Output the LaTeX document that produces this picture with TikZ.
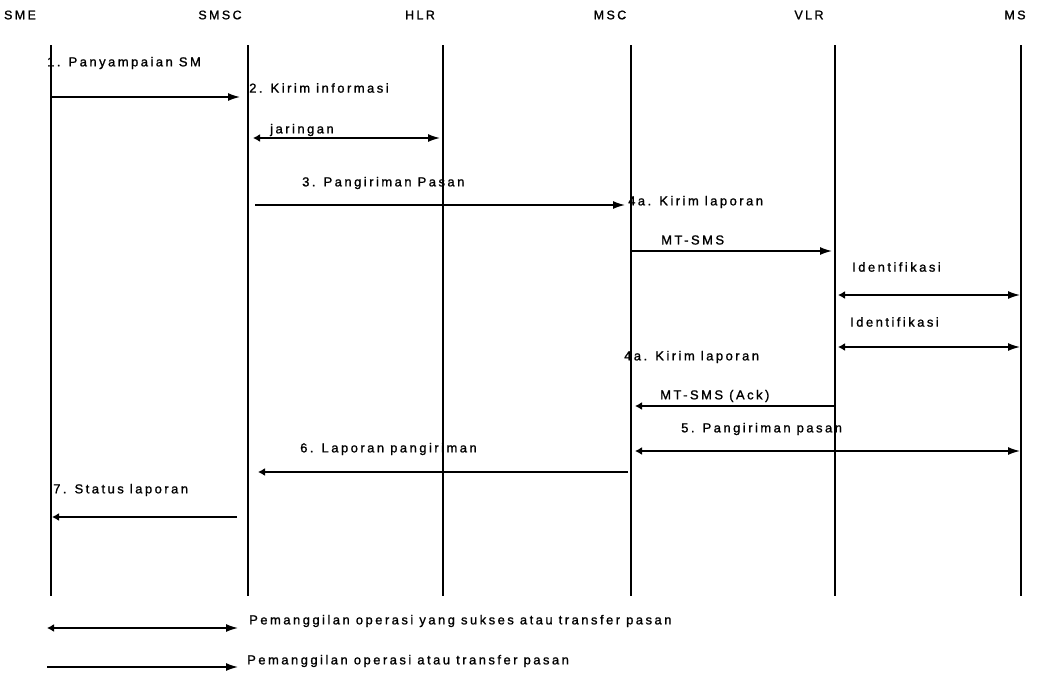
\documentclass[tikz,border=0pt]{standalone}
\usepackage{fontspec}
\setmainfont[LetterSpace=19,FakeBold=1.2]{Liberation Sans}
\usetikzlibrary{arrows.meta}

\begin{document}
\begin{tikzpicture}[x=1pt,y=-1pt,
  lifeline/.style={line width=1.7pt},
  head/.style={font=\fontsize{12.5}{14}\selectfont, inner sep=0pt},
  lbl/.style={font=\fontsize{13}{15}\selectfont, inner sep=0pt, anchor=west},
  call/.style={line width=1.4pt, -{Latex[length=12pt,width=8pt]}},
  okcall/.style={line width=1.4pt, {Latex[length=7pt,width=8pt]}-{Latex[length=12pt,width=8pt]}},
  reply/.style={line width=1.4pt, -{Latex[length=7pt,width=8pt]}}
]
\useasboundingbox (0,0) rectangle (1045,675);

% entity headings
\node[head] (hSME)  at (20,15)   {SME};
\node[head] (hSMSC) at (220,15)  {SMSC};
\node[head] (hHLR)  at (420,15)  {HLR};
\node[head] (hMSC)  at (610,15)  {MSC};
\node[head] (hVLR)  at (809,15)  {VLR};
\node[head] (hMS)   at (1015,15) {MS};

% lifelines
\coordinate (sme)  at (51,45);   \coordinate (smeB)  at (51,596);
\coordinate (smsc) at (248,45);  \coordinate (smscB) at (248,596);
\coordinate (hlr)  at (443,45);  \coordinate (hlrB)  at (443,596);
\coordinate (msc)  at (631,45);  \coordinate (mscB)  at (631,596);
\coordinate (vlr)  at (835,45);  \coordinate (vlrB)  at (835,596);
\coordinate (ms)   at (1021,45); \coordinate (msB)   at (1021,596);
\foreach \a/\b in {sme/smeB,smsc/smscB,hlr/hlrB,msc/mscB,vlr/vlrB,ms/msB}
  \draw[lifeline] (\a) -- (\b);

% message rows
\coordinate (r1) at (0,97);
\coordinate (r2) at (0,138);
\coordinate (r3) at (0,205);
\coordinate (r4) at (0,251);
\coordinate (r5) at (0,295);
\coordinate (r6) at (0,347);
\coordinate (r7) at (0,406);
\coordinate (r8) at (0,451);
\coordinate (r9) at (0,472);
\coordinate (r10) at (0,517);

% messages
\draw[call, shorten >=8pt] (sme |- r1) -- (smsc |- r1);
\draw[okcall, shorten <=5pt, shorten >=3pt] (smsc |- r2) -- (hlr |- r2);
\draw[call, shorten <=7pt, shorten >=6pt] (smsc |- r3) -- (msc |- r3);
\draw[call, shorten <=1pt, shorten >=3pt] (msc |- r4) -- (vlr |- r4);
\draw[okcall, shorten <=3pt, shorten >=1pt] (vlr |- r5) -- (ms |- r5);
\draw[okcall, shorten <=3pt, shorten >=1pt] (vlr |- r6) -- (ms |- r6);
\draw[reply, shorten >=4pt] (vlr |- r7) -- (msc |- r7);
\draw[okcall, shorten <=4pt, shorten >=1pt] (msc |- r8) -- (ms |- r8);
\draw[reply, shorten <=3pt, shorten >=10pt] (msc |- r9) -- (smsc |- r9);
\draw[reply, shorten <=11pt, shorten >=1pt] (smsc |- r10) -- (sme |- r10);

% message labels
\node[lbl] (l1)  at (47,63)   {1. Panyampaian SM};
\node[lbl] (l2)  at (249,88)  {2. Kirim informasi};
\node[lbl] (l2b) at (270,130) {jaringan};
\node[lbl] (l3)  at (302,183) {3. Pangiriman Pasan};
\node[lbl] (l4a) at (628,202) {4a. Kirim laporan};
\node[lbl] (l4)  at (661,240) {MT-SMS};
\node[lbl] (l5)  at (852,267) {Identifikasi};
\node[lbl] (l6)  at (850,322) {Identifikasi};
\node[lbl] (l4c) at (624,357) {4a. Kirim laporan};
\node[lbl] (l7)  at (660,396) {MT-SMS (Ack)};
\node[lbl] (l8)  at (681,429) {5. Pangiriman pasan};
\node[lbl] (l9)  at (300,449) {6. Laporan pangiriman};
\node[lbl] (l10) at (53,490)  {7. Status laporan};

% key
\coordinate (k1a) at (47,628);  \coordinate (k1b) at (238,628);
\coordinate (k2a) at (47,667);  \coordinate (k2b) at (238,667);
\draw[okcall] (k1a) -- (k1b);
\draw[call] (k2a) -- (k2b);
\node[lbl] (t1) at (249,621) {Pemanggilan operasi yang sukses atau transfer pasan};
\node[lbl] (t2) at (247,661) {Pemanggilan operasi atau transfer pasan};
\end{tikzpicture}
\end{document}
